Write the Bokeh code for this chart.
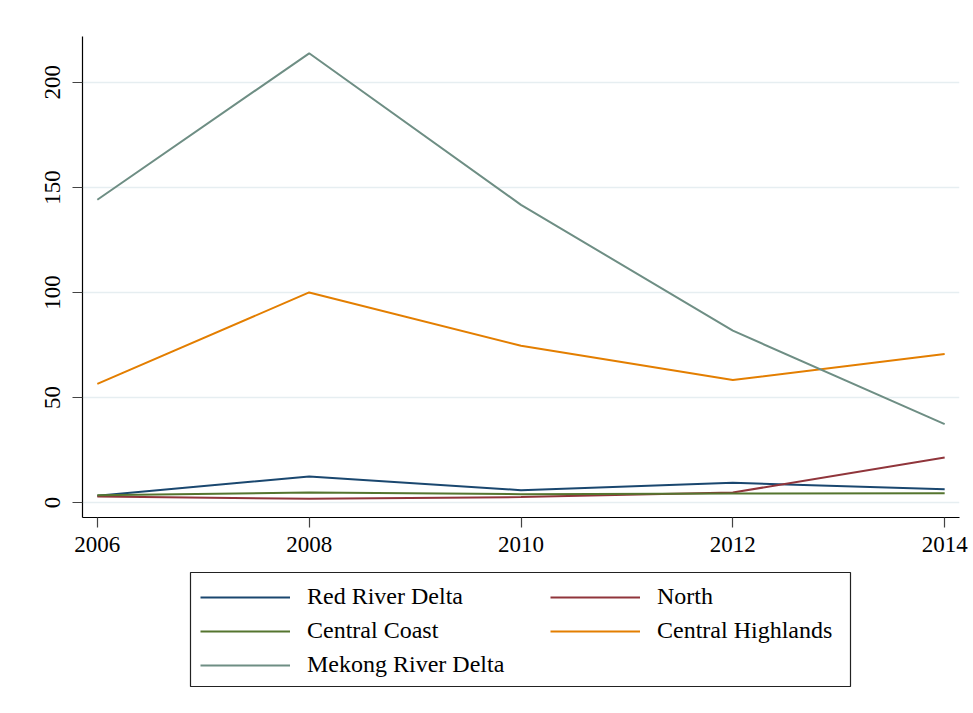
from bokeh.plotting import figure
from bokeh.layouts import column
from bokeh.models import Legend, LegendItem, FixedTicker, Range1d, BoxAnnotation
from bokeh.embed import file_html
from bokeh.resources import INLINE

years = [2006, 2008, 2010, 2012, 2014]
red_river_delta = [3.3, 12.4, 5.9, 9.4, 6.4]
north = [2.9, 1.8, 2.6, 4.8, 21.4]
central_coast = [3.5, 4.8, 4.0, 4.3, 4.4]
central_highlands = [56.5, 100.0, 74.6, 58.3, 70.7]
mekong_river_delta = [144.1, 213.8, 141.7, 81.8, 37.3]

series = [
    ("Red River Delta", red_river_delta, "#1a476f"),
    ("North", north, "#90353b"),
    ("Central Coast", central_coast, "#55752f"),
    ("Central Highlands", central_highlands, "#e37e00"),
    ("Mekong River Delta", mekong_river_delta, "#6e8e84"),
]

FONT = "Liberation Serif"
W, H_PLOT, H_KEY = 973, 560, 153
LEFT, RIGHT = 82, 959  # frame edges shared by both panels

# ---- main line chart ----
p = figure(width=W, height=H_PLOT, output_backend="svg", toolbar_location=None,
           x_range=Range1d(2005.86, 2014.14), y_range=Range1d(-7.1, 221.8),
           min_border_left=LEFT, min_border_right=W - RIGHT, min_border_top=36,
           min_border_bottom=H_PLOT - 517)
p.outline_line_color = None
p.background_fill_color = "white"
p.border_fill_color = "white"

for name, vals, color in series:
    p.line(years, vals, line_color=color, line_width=2)

p.xaxis.ticker = FixedTicker(ticks=[2006, 2008, 2010, 2012, 2014])
p.yaxis.ticker = FixedTicker(ticks=[0, 50, 100, 150, 200])
for ax in (p.xaxis, p.yaxis):
    ax.axis_line_color = "black"
    ax.axis_line_width = 1.2
    ax.major_tick_line_color = "#444444"
    ax.major_tick_line_width = 1.2
    ax.major_tick_out = 10
    ax.major_tick_in = 0
    ax.minor_tick_out = 0
    ax.minor_tick_in = 0
    ax.major_label_text_font = FONT
    ax.major_label_text_font_size = "23px"
    ax.major_label_text_color = "black"
p.xaxis.major_label_standoff = 9
p.yaxis.major_label_standoff = 12
p.yaxis.major_label_orientation = "vertical"

p.xgrid.grid_line_color = None
p.ygrid.grid_line_color = "#e6eef1"
p.ygrid.grid_line_width = 1.5

# ---- key panel underneath (page-pixel coordinates, y grows downward) ----
k = figure(width=W, height=H_KEY, output_backend="svg", toolbar_location=None,
           x_range=Range1d(LEFT, RIGHT), y_range=Range1d(H_PLOT + H_KEY, H_PLOT),
           min_border_left=LEFT, min_border_right=W - RIGHT,
           min_border_top=0, min_border_bottom=0,
           x_axis_type=None, y_axis_type=None)
k.outline_line_color = None
k.xgrid.visible = False
k.ygrid.visible = False
k.border_fill_color = "white"
k.background_fill_color = "white"

# key swatches reuse the series styling; the series fall outside this panel's range
key_renderers = {}
for name, vals, color in series:
    key_renderers[name] = k.line(years, vals, line_color=color, line_width=2)

style = dict(label_text_font=FONT, label_text_font_size="24px",
             label_text_color="black", glyph_width=90, glyph_height=24,
             label_height=24, label_standoff=17, spacing=7, padding=0,
             border_line_color=None, background_fill_alpha=0.0, margin=0)

col1 = ["Red River Delta", "Central Coast", "Mekong River Delta"]
col2 = ["North", "Central Highlands"]
k.add_layout(Legend(items=[LegendItem(label=n, renderers=[key_renderers[n]]) for n in col1],
                    location=(200 - LEFT, H_PLOT + H_KEY - 678), **style), "center")
k.add_layout(Legend(items=[LegendItem(label=n, renderers=[key_renderers[n]]) for n in col2],
                    location=(550 - LEFT, H_PLOT + H_KEY - 644), **style), "center")

k.add_layout(BoxAnnotation(left=190, right=850, top=572, bottom=686,
                           fill_alpha=0.0, line_color="#222222", line_alpha=1.0,
                           line_width=1.2))

open("out.html", "w").write(file_html(column(p, k, spacing=0), INLINE))
